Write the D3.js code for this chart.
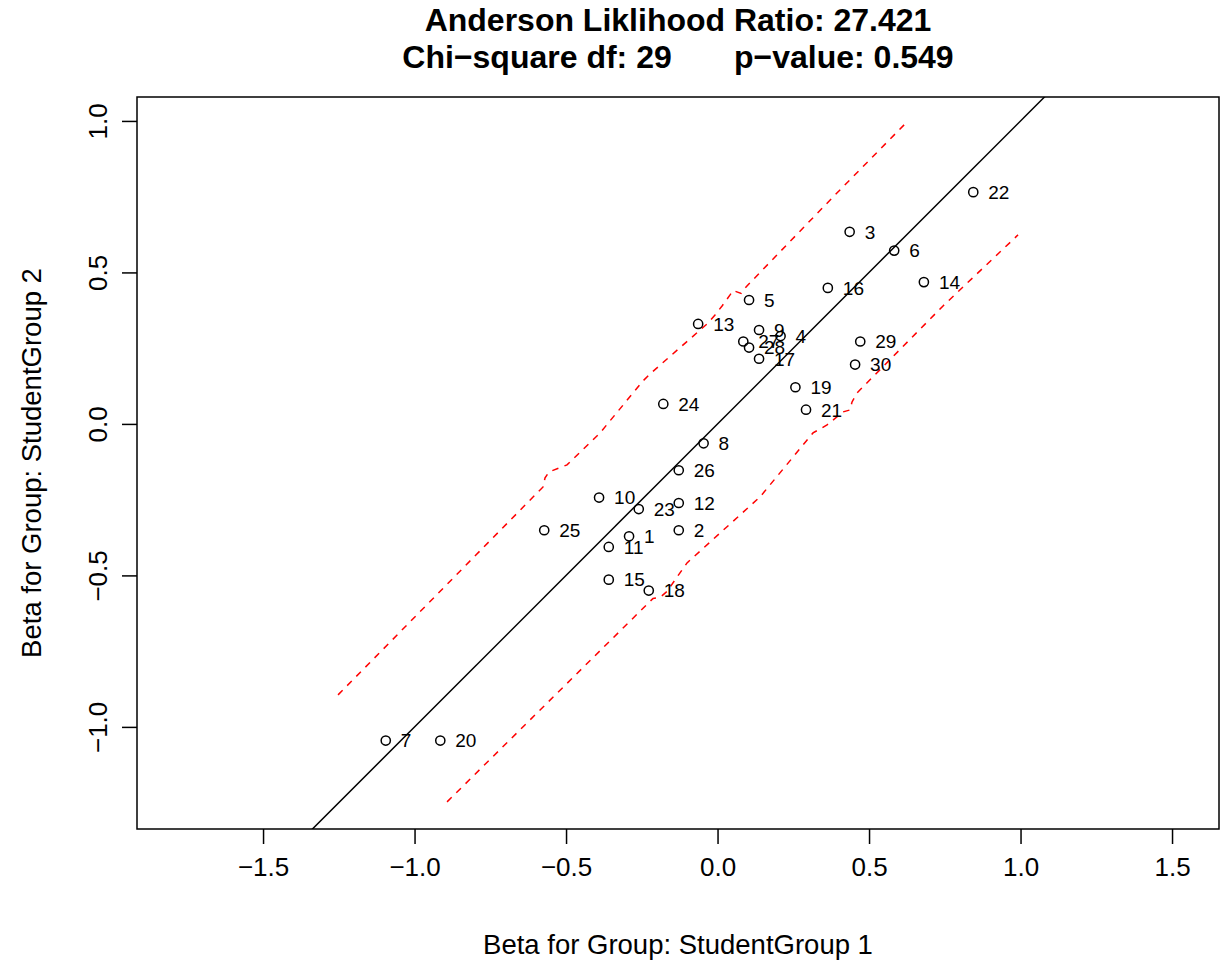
<!DOCTYPE html>
<html><head><meta charset="utf-8">
<script src="https://cdn.jsdelivr.net/npm/d3@7/dist/d3.min.js"></script>
<style>
body{margin:0;background:#fff}
text{font-family:"Liberation Sans", Arial, Helvetica, sans-serif}
</style>
</head><body>
<svg id="chart" width="1225" height="967"></svg>
<script>
// ---- data ----
const itemIds = [1,2,3,4,5,6,7,8,9,10,11,12,13,14,15,16,17,18,19,20,21,22,23,24,25,26,27,28,29,30];
const betaGroup1 = [-0.292,-0.128,0.436,0.208,0.104,0.583,-1.095,-0.046,0.137,-0.391,-0.359,-0.128,-0.064,0.681,-0.359,0.364,0.137,-0.227,0.257,-0.915,0.292,0.844,-0.260,-0.179,-0.572,-0.128,0.085,0.104,0.471,0.454];
const betaGroup2 = [-0.371,-0.351,0.634,0.290,0.409,0.572,-1.045,-0.064,0.310,-0.243,-0.406,-0.261,0.330,0.468,-0.514,0.449,0.215,-0.550,0.121,-1.045,0.047,0.765,-0.281,0.066,-0.351,-0.153,0.272,0.252,0.272,0.196];
const upperCtrlX = [-1.2525,-0.5759,-0.5693,-0.5561,-0.4967,-0.3878,-0.2459,-0.2228,-0.0347,-0.0083,0.0149,0.0413,0.0512,0.0776,0.0941,0.3878,0.6188];
const upperCtrlY = [-0.8944,-0.2079,-0.1782,-0.1584,-0.1353,-0.0297,0.1419,0.1650,0.3300,0.3597,0.3894,0.4257,0.4406,0.4307,0.4521,0.7558,0.9901];
const lowerCtrlX = [-0.8927,-0.2129,-0.1898,-0.1667,-0.1403,-0.1007,0.1403,0.3152,0.3614,0.4142,0.4373,0.4439,0.4604,0.7442,0.9917];
const lowerCtrlY = [-1.2475,-0.5759,-0.5726,-0.5528,-0.5149,-0.4587,-0.2409,-0.0297,-0.0033,0.0396,0.0462,0.0726,0.1023,0.3894,0.6238];
const xTicks = [-1.5,-1.0,-0.5,0.0,0.5,1.0,1.5];
const yTicks = [-1.0,-0.5,0.0,0.5,1.0];
const titleLine1 = "Anderson Liklihood Ratio: 27.421";
const titleLine2 = "Chi\u2212square df: 29       p\u2212value: 0.549";
const xLabel = "Beta for Group: StudentGroup 1";
const yLabel = "Beta for Group: StudentGroup 2";

// ---- layout ----
const W = 1225, H = 967;
const L = 137, R = 1219, T = 97, B = 829;
const x = d3.scaleLinear().domain([-1.916, 1.655]).range([L, R]);
const y = d3.scaleLinear().domain([-1.337, 1.079]).range([B, T]);
const fmt = v => d3.format(".1f")(v).replace("-", "\u2212");

const svg = d3.select("#chart");
svg.append("rect").attr("width", W).attr("height", H).attr("fill", "#fff");

svg.append("clipPath").attr("id", "clip")
  .append("rect").attr("x", L).attr("y", T).attr("width", R - L).attr("height", B - T);

const plot = svg.append("g").attr("clip-path", "url(#clip)");

// identity line
plot.append("line")
  .attr("x1", x(-3)).attr("y1", y(-3)).attr("x2", x(3)).attr("y2", y(3))
  .attr("stroke", "#000").attr("stroke-width", 1.5);

// control lines
const lineGen = d3.line().x(d => x(d[0])).y(d => y(d[1]));
[[upperCtrlX, upperCtrlY], [lowerCtrlX, lowerCtrlY]].forEach(([xs, ys]) => {
  plot.append("path")
    .attr("d", lineGen(xs.map((v, i) => [v, ys[i]])))
    .attr("fill", "none").attr("stroke", "#ff0000").attr("stroke-width", 1.5)
    .attr("stroke-dasharray", "6.5,6.5");
});

// points
const pts = itemIds.map((id, i) => ({id, b1: betaGroup1[i], b2: betaGroup2[i]}));
plot.selectAll("circle.pt").data(pts).enter().append("circle")
  .attr("cx", d => x(d.b1)).attr("cy", d => y(d.b2)).attr("r", 4.6)
  .attr("fill", "none").attr("stroke", "#000").attr("stroke-width", 1.5);
plot.selectAll("text.lbl").data(pts).enter().append("text")
  .attr("x", d => x(d.b1) + 15).attr("y", d => y(d.b2)).attr("dy", "0.36em")
  .attr("font-size", 19).attr("fill", "#000").text(d => d.id);

// axes
const xAxis = svg.append("g").attr("transform", `translate(0,${B})`)
  .call(d3.axisBottom(x).tickValues(xTicks).tickSize(15).tickPadding(14).tickFormat(fmt));
xAxis.select(".domain").remove();
xAxis.selectAll("line").attr("stroke", "#000").attr("stroke-width", 1.5);
xAxis.selectAll("text").attr("font-size", 26).attr("fill", "#000");

const yAxis = svg.append("g").attr("transform", `translate(${L},0)`)
  .call(d3.axisLeft(y).tickValues(yTicks).tickSize(15).tickFormat(fmt));
yAxis.select(".domain").remove();
yAxis.selectAll("line").attr("stroke", "#000").attr("stroke-width", 1.5);
yAxis.selectAll("text")
  .attr("font-size", 26).attr("fill", "#000")
  .attr("x", 0).attr("y", -30).attr("dy", 0)
  .attr("text-anchor", "middle").attr("transform", "rotate(-90)");

// box
svg.append("rect").attr("x", L).attr("y", T).attr("width", R - L).attr("height", B - T)
  .attr("fill", "none").attr("stroke", "#000").attr("stroke-width", 1.5);

// titles
svg.append("text").attr("x", (L + R) / 2).attr("y", 31).attr("text-anchor", "middle")
  .attr("font-size", 32).attr("font-weight", "bold").text(titleLine1);
svg.append("text").attr("x", (L + R) / 2).attr("y", 68).attr("text-anchor", "middle")
  .attr("xml:space", "preserve").style("white-space", "pre")
  .attr("font-size", 32).attr("font-weight", "bold").text(titleLine2);

svg.append("text").attr("x", (L + R) / 2).attr("y", 954).attr("text-anchor", "middle")
  .attr("font-size", 27.5).text(xLabel);
svg.append("text").attr("transform", `translate(41,${(T + B) / 2}) rotate(-90)`)
  .attr("text-anchor", "middle").attr("font-size", 27.5).text(yLabel);
</script>
</body></html>
